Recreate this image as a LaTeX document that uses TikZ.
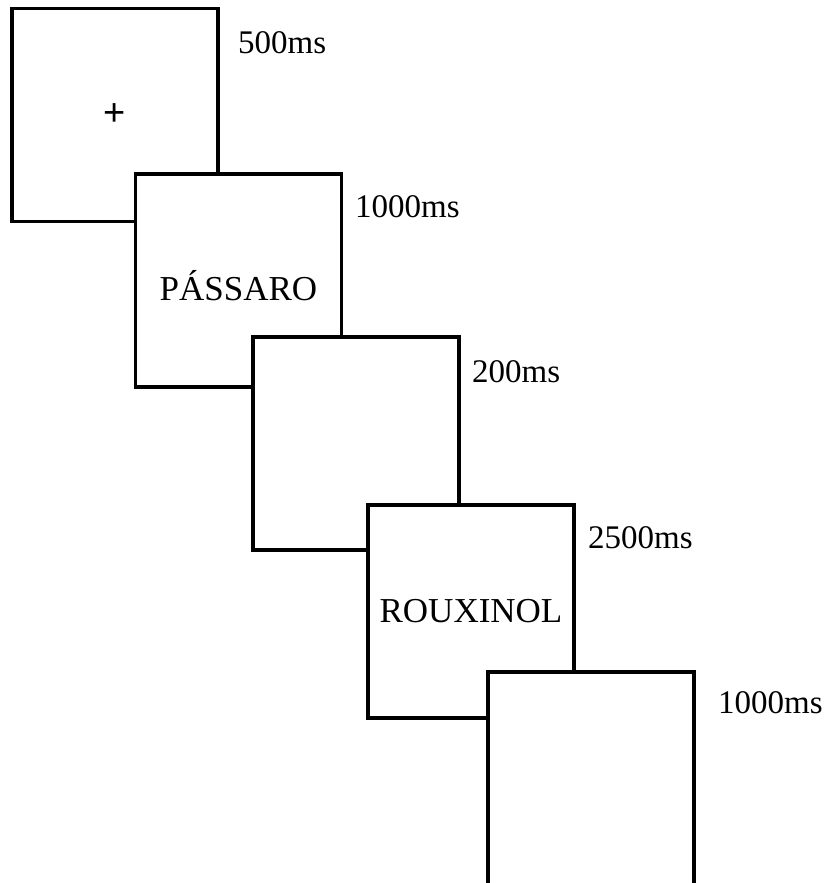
\documentclass[tikz,border=0pt]{standalone}
\usepackage{fontspec}
\setmainfont{Liberation Serif}
\newfontfamily\plusfont{Liberation Sans}
\begin{document}
\begin{tikzpicture}[x=1pt,y=-1pt,
  frame/.style={draw=black, fill=white, line width=3.5pt, rectangle,
    minimum width=206pt, minimum height=213pt, inner sep=0pt,
    font=\fontsize{35}{40}\selectfont},
  dur/.style={anchor=west, inner sep=0pt, font=\fontsize{33}{40}\selectfont}]
\useasboundingbox (0,0) rectangle (827,883);
\node[frame] (b1) at (115,115) {};
\node[inner sep=0pt, font=\plusfont\fontsize{38}{42}\selectfont] (p1) at (b1.center) {+};
\node[frame] (b2) at (238.5,280.5) {};
\node at (b2.center) [yshift=-5pt, font=\fontsize{35}{40}\selectfont] (t2) {PÁSSARO};
\node[frame] (b3) at (356,443.5) {};
\node[frame] (b4) at (471,611.5) {ROUXINOL};
\node[frame] (b5) at (591,778.5) {};
\node[dur] (l1) at (238,43) {500ms};
\node[dur] (l2) at (355,207) {1000ms};
\node[dur] (l3) at (472,372) {200ms};
\node[dur] (l4) at (588,538) {2500ms};
\node[dur] (l5) at (718,703) {1000ms};
\end{tikzpicture}
\end{document}
